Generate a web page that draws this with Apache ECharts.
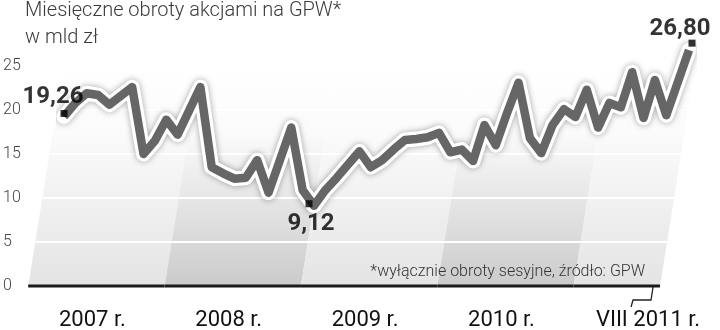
<!DOCTYPE html>
<html><head><meta charset="utf-8">
<script src="https://cdn.jsdelivr.net/npm/echarts@6/dist/echarts.min.js"></script>
<style>html,body{margin:0;padding:0;background:#fff}#c{width:720px;height:330px}</style>
</head><body><div id="c"></div>
<script>
// ---- data ----
const roman = ['I','II','III','IV','V','VI','VII','VIII','IX','X','XI','XII'];
const yearNums = [2007, 2008, 2009, 2010, 2011];
const yearMonths = [12, 12, 12, 12, 8];
const months = [];
yearNums.forEach((y, k) => { for (let m = 0; m < yearMonths[k]; m++) months.push(roman[m] + ' ' + y); });
const values = [
  19.26, 20.8, 21.9, 21.7, 20.6, 21.6, 22.6, 15.0, 16.5, 18.9, 17.2, 19.9,
  22.6, 13.5, 12.8, 12.2, 12.3, 14.3, 10.6, 14.3, 18.0, 10.9, 9.12, 10.9,
  12.3, 13.8, 15.3, 13.5, 14.3, 15.5, 16.6, 16.7, 16.9, 17.4, 15.2, 15.5,
  14.2, 18.3, 16.0, 19.7, 23.1, 16.8, 15.1, 18.3, 20.1, 19.2, 22.3, 18.0,
  20.8, 20.3, 24.3, 19.1, 23.4, 19.4, 23.1, 26.80
];
const yearLabels = ['2007 r.', '2008 r.', '2009 r.', '2010 r.', 'VIII 2011 r.'];
const yTicks = [0, 5, 10, 15, 20, 25];
const titleText = 'Miesięczne obroty akcjami na GPW*';
const subtitleText = 'w mld zł';
const footnoteText = '*wyłącznie obroty sesyjne, źródło: GPW';

// ---- derived ----
const lastIdx = values.length - 1;
const minIdx = values.indexOf(Math.min(...values));
const fmt = v => v.toFixed(2).replace('.', ',');
const yMax = yTicks[yTicks.length - 1];
const yStep = yTicks[1] - yTicks[0];

// style constants
const bandShift = -3.15;   // band bottom-left offset in month units
const slope = 0.16;        // skew of band edges (px per px)
const lightC = '#e4e4e4', darkC = '#cbcbcb';

const chart = echarts.init(document.getElementById('c'), null, { renderer: 'canvas' });

function bandItem(params, api) {
  const k = api.value(0);
  let startM = 0; for (let i = 0; i < k; i++) startM += yearMonths[i];
  const start = startM + bandShift;
  let end = start + yearMonths[k];
  if (k === yearMonths.length - 1) end -= 0.4;
  const b0 = api.coord([start, 0]), b1 = api.coord([end, 0]);
  const y0 = b0[1];
  const xAt = (x, y) => x + slope * (y0 - y);
  const yTop = api.coord([0, yMax])[1];
  const color = (k % 2 === 0) ? lightC : darkC;
  const children = [];
  children.push({
    type: 'polygon',
    shape: { points: [[b0[0], y0], [b1[0], y0], [xAt(b1[0], yTop), yTop], [xAt(b0[0], yTop), yTop]] },
    style: { fill: new echarts.graphic.LinearGradient(0, 0, 0, 1, [
      { offset: 0, color: '#ffffff' },
      { offset: 0.3, color: '#fbfbfb' },
      { offset: 1, color: color }
    ]) }
  });
  yTicks.forEach(t => {
    if (t === 0) return;
    const y = api.coord([0, t])[1];
    children.push({ type: 'line', shape: { x1: xAt(b0[0], y), y1: y, x2: xAt(b1[0], y), y2: y },
      style: { stroke: '#ffffff', lineWidth: 2 } });
  });
  children.push({ type: 'line', shape: { x1: b0[0], y1: y0, x2: b1[0], y2: y0 },
    style: { stroke: '#1a1a1a', lineWidth: 3 } });
  const last = k === yearMonths.length - 1;
  const lx = last ? b1[0] - 12 : (b0[0] + b1[0]) / 2 - 4;
  children.push({ type: 'text', style: { text: yearLabels[k], x: lx, y: y0 + 34,
    align: 'center', verticalAlign: 'middle', textAlign: 'center', textVerticalAlign: 'middle',
    font: '22px Roboto, "Open Sans", sans-serif', fill: '#111' } });
  if (last) {
    children.push({ type: 'polyline', shape: { points: [[lx + 5, y0 + 1], [lx + 3, y0 + 14], [lx - 15, y0 + 14], [lx - 17, y0 + 21]] },
      style: { stroke: '#222', lineWidth: 1.3, fill: null } });
    children.push({ type: 'text', style: { text: footnoteText, x: b1[0] - 15, y: y0 - 14,
      align: 'right', verticalAlign: 'middle', textAlign: 'right', textVerticalAlign: 'middle',
      font: '300 16px Roboto, "Open Sans", sans-serif', fill: '#333' } });
  }
  return { type: 'group', children };
}

const markerData = [0, minIdx, lastIdx].map(i => [i, values[i]]);
const labelCfg = {};
labelCfg[0] = { position: 'top', offset: [-11, 2], symbolOffset: [0, -3] };
labelCfg[minIdx] = { position: 'bottom', offset: [2, 2], symbolOffset: [-5, -2] };
labelCfg[lastIdx] = { position: 'top', offset: [-12, 4], symbolOffset: [3, -7] };

chart.setOption({
  animation: false,
  backgroundColor: '#ffffff',
  grid: { left: 62, right: 31, top: 66, bottom: 44 },
  xAxis: [
    { type: 'category', data: months, boundaryGap: false, show: false },
    { type: 'value', min: 0, max: lastIdx, show: false }
  ],
  yAxis: {
    type: 'value', min: 0, max: yMax, interval: yStep,
    axisLine: { show: false }, axisTick: { show: false }, splitLine: { show: false },
    axisLabel: { align: 'left', margin: 61, color: '#444', fontSize: 16,
      fontFamily: 'Roboto, "Open Sans", sans-serif', fontWeight: 300 }
  },
  graphic: [
    { type: 'text', left: 25, top: 1, style: { text: titleText, font: '300 20px Roboto, "Open Sans", sans-serif', fill: '#3a3a3a' } },
    { type: 'text', left: 25, top: 28, style: { text: subtitleText, font: '300 20px Roboto, "Open Sans", sans-serif', fill: '#3a3a3a' } }
  ],
  series: [
    { type: 'custom', xAxisIndex: 1, yAxisIndex: 0, z: 1, silent: true,
      data: yearLabels.map((_, k) => [k]), renderItem: bandItem },
    { type: 'line', xAxisIndex: 0, data: values, symbol: 'none', clip: false, z: 3,
      lineStyle: { color: '#ffffff', width: 15, join: 'round', cap: 'round',
        shadowColor: 'rgba(0,0,0,0.35)', shadowBlur: 6 } },
    { type: 'line', xAxisIndex: 0, data: values, symbol: 'none', clip: false, z: 4,
      lineStyle: { color: '#666666', width: 8.5, join: 'round', cap: 'butt' } },
    { type: 'scatter', xAxisIndex: 0, z: 6, clip: false,
      data: markerData.map(d => ({ value: d, symbolOffset: labelCfg[d[0]].symbolOffset,
        label: { show: true, position: labelCfg[d[0]].position, offset: labelCfg[d[0]].offset,
          formatter: fmt(d[1]), fontFamily: 'Roboto, sans-serif',
          fontWeight: 'bold', fontSize: 24, color: '#000', distance: 3 } })),
      symbol: 'rect', symbolSize: [7, 7], itemStyle: { color: '#000' } }
  ]
});
</script></body></html>
